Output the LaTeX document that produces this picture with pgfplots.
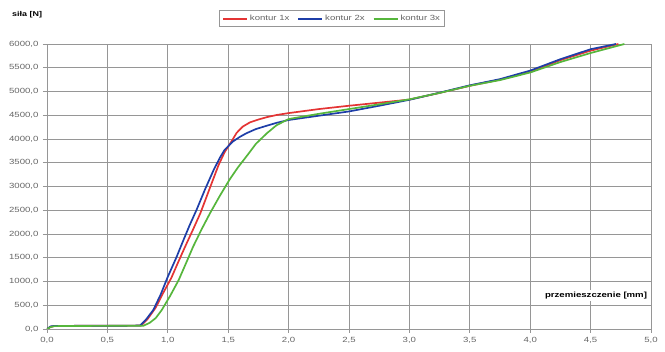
\documentclass[border=0pt]{standalone}
\usepackage{pgfplots}
\pgfplotsset{compat=1.18}
\usepackage{fontspec}
\setmainfont{Liberation Sans}[FakeStretch=1.28]
\definecolor{cred}{RGB}{228,52,52}
\definecolor{cblue}{RGB}{30,62,168}
\definecolor{cgreen}{RGB}{86,182,60}
\definecolor{cgrid}{RGB}{150,150,150}
\definecolor{ctick}{RGB}{100,100,100}
\begin{document}
\begin{tikzpicture}
\begin{axis}[
  scale only axis,
  width=604pt, height=285pt,
  xmin=0, xmax=5, ymin=0, ymax=6000,
  xtick={0,0.5,...,5}, ytick={0,500,...,6000},
  grid=major,
  major grid style={cgrid, line width=0.6pt},
  axis line style={cgrid, line width=0.6pt},
  tick style={cgrid, line width=0.6pt},
  tick align=outside,
  major tick length=4pt,
  xtick pos=left, ytick pos=left,
  clip mode=individual,
  /pgf/number format/assume math mode=true,
  xticklabel style={font=\fontsize{7.5}{8}\selectfont, text=ctick, yshift=-1pt, /pgf/number format/.cd, fixed, fixed zerofill, precision=1, use comma},
  yticklabel style={font=\fontsize{7.5}{8}\selectfont, text=ctick, xshift=-1pt, /pgf/number format/.cd, fixed, fixed zerofill, precision=1, use comma, 1000 sep={}},
  scaled ticks=false,
  legend columns=3,
  legend style={at={(axis description cs:0.472,1.089)}, anchor=center, draw=cgrid, font=\fontsize{7.5}{8}\selectfont, text=ctick, inner sep=2.5pt, /tikz/every even column/.append style={column sep=6pt}},
  legend cell align=left,
  legend image code/.code={\draw[#1, line width=1.8pt] (0pt,0pt) -- (24pt,0pt);},
]
\addplot[cred, line width=1.7pt] coordinates {
(0,0) (0.03,45) (0.06,62) (0.2,66) (0.5,68) (0.78,72) (0.83,200) (0.9,450) (0.96,750) (1.03,1080) (1.09,1430) (1.15,1770) (1.21,2100) (1.27,2440) (1.35,2980) (1.42,3450) (1.47,3720) (1.53,3960) (1.57,4130) (1.62,4260) (1.68,4350) (1.75,4410) (1.82,4460) (1.9,4505) (2.0,4545) (2.25,4630) (2.5,4700) (2.75,4765) (3.0,4830) (3.25,4970) (3.5,5120) (3.75,5250) (4.0,5420) (4.25,5660) (4.5,5860) (4.73,6000)
};
\addplot[cblue, line width=1.7pt] coordinates {
(0,0) (0.03,55) (0.06,64) (0.2,66) (0.5,68) (0.77,72) (0.82,200) (0.88,400) (0.94,720) (1.0,1100) (1.07,1500) (1.13,1875) (1.18,2180) (1.24,2520) (1.31,2950) (1.38,3350) (1.43,3600) (1.47,3770) (1.54,3950) (1.6,4050) (1.65,4120) (1.73,4210) (1.82,4280) (1.9,4340) (2.0,4400) (2.25,4490) (2.5,4580) (2.75,4700) (3.0,4825) (3.25,4975) (3.5,5130) (3.75,5260) (4.0,5440) (4.25,5680) (4.5,5890) (4.71,6000)
};
\addplot[cgreen, line width=1.7pt] coordinates {
(0,0) (0.03,40) (0.06,60) (0.2,64) (0.5,66) (0.8,70) (0.85,130) (0.9,230) (0.95,400) (1.02,700) (1.09,1030) (1.15,1380) (1.21,1735) (1.28,2100) (1.35,2440) (1.43,2800) (1.51,3140) (1.58,3400) (1.65,3630) (1.73,3900) (1.82,4120) (1.9,4290) (2.0,4420) (2.25,4530) (2.5,4630) (2.75,4730) (3.0,4835) (3.25,4970) (3.5,5120) (3.75,5240) (4.0,5400) (4.25,5620) (4.5,5810) (4.78,6000)
};
\legend{kontur 1x, kontur 2x, kontur 3x}
\node[anchor=east, fill=white, inner sep=2pt, font=\fontsize{7.5}{8}\selectfont\bfseries] at (axis cs:4.985,700) {przemieszczenie [mm]};
\node[anchor=west, inner sep=0pt, font=\fontsize{7}{8}\selectfont\bfseries] at ([xshift=-35pt, yshift=29pt]rel axis cs:0,1) {siła [N]};
\end{axis}
\pgfresetboundingbox
\path (-47pt,-23pt) rectangle (618pt,329pt);
\end{tikzpicture}
\end{document}
